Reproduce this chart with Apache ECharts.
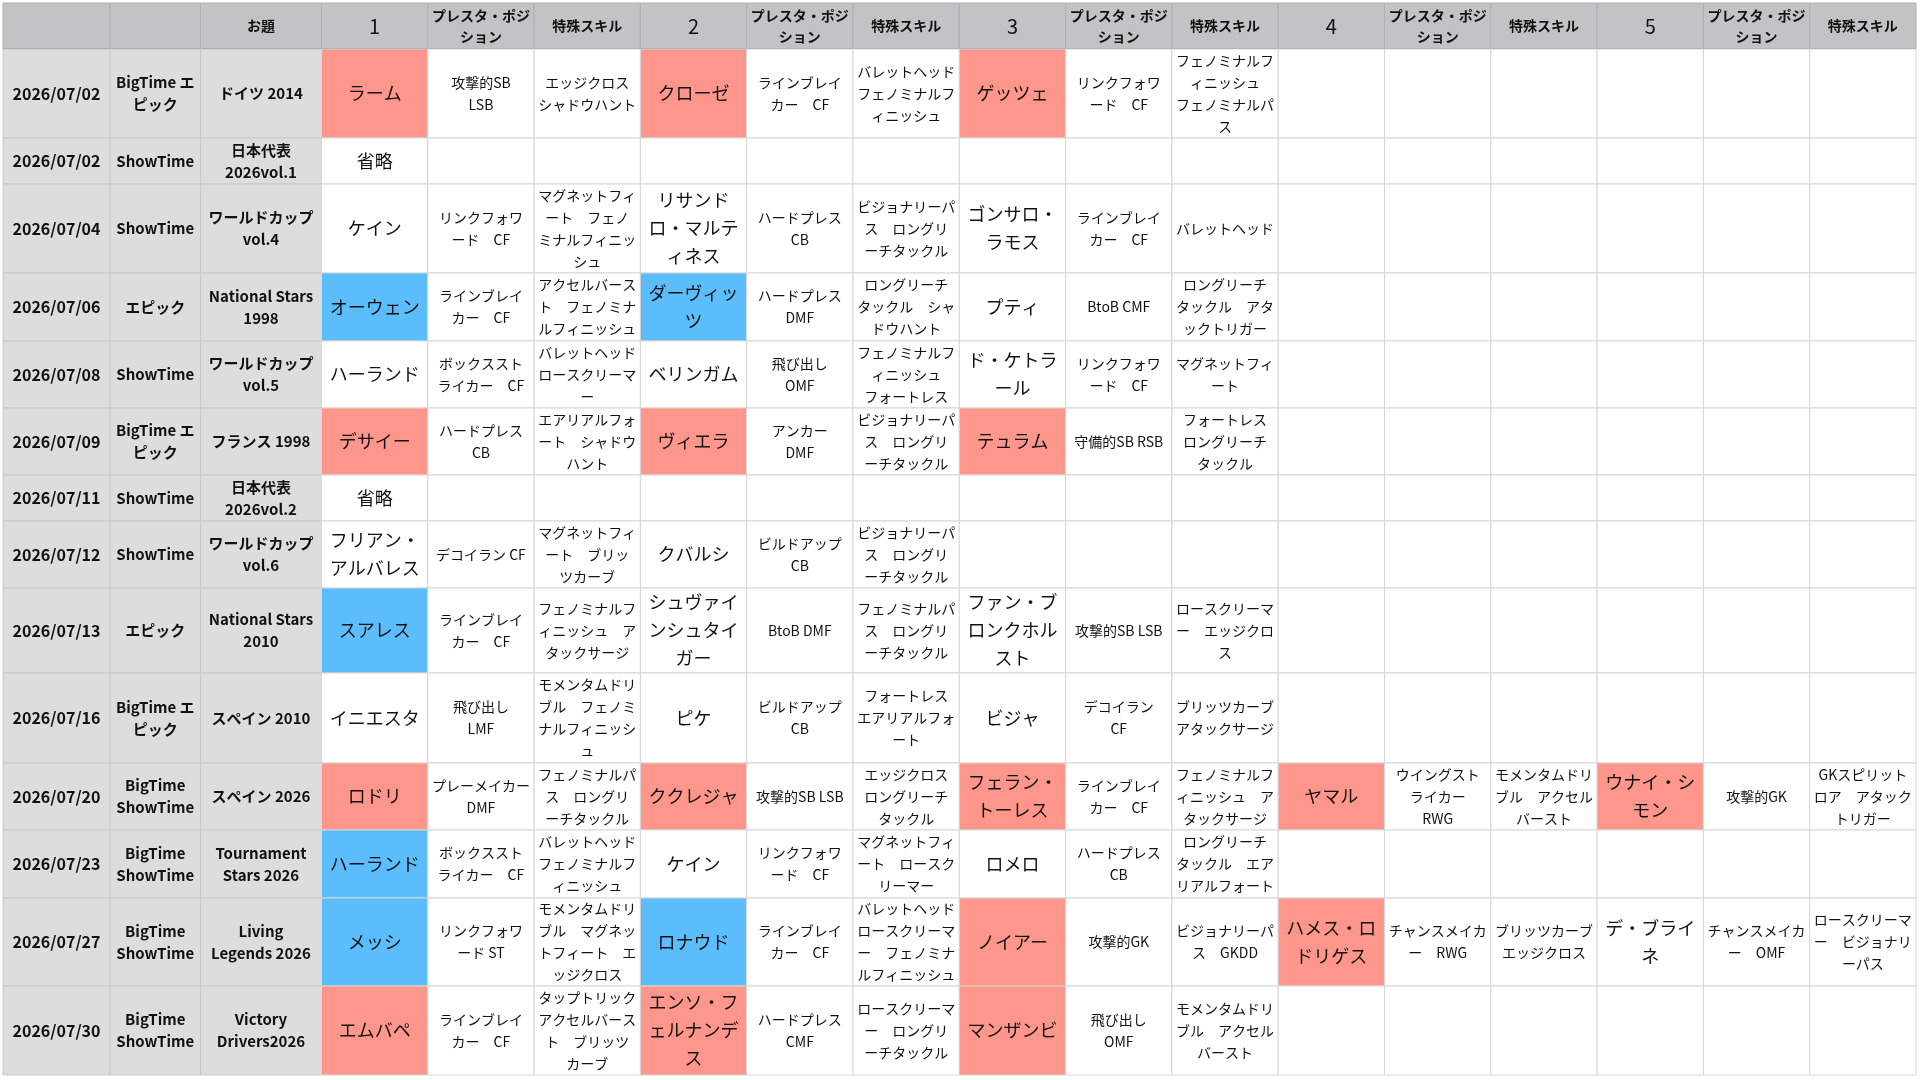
<!DOCTYPE html>
<html>
<head>
<meta charset="utf-8">
<script src="https://cdn.jsdelivr.net/npm/echarts@6/dist/echarts.min.js"></script>
<style>
  html, body { margin: 0; padding: 0; background: #ffffff; }
  #main { width: 1920px; height: 1080px; }
</style>
</head>
<body>
<div id="main"></div>
<script>
// ---- data ----
var headers = ['', '', 'お題',
  '1', 'プレスタ・ポジ\nション', '特殊スキル',
  '2', 'プレスタ・ポジ\nション', '特殊スキル',
  '3', 'プレスタ・ポジ\nション', '特殊スキル',
  '4', 'プレスタ・ポジ\nション', '特殊スキル',
  '5', 'プレスタ・ポジ\nション', '特殊スキル'];

var dates = ['2026/07/02', '2026/07/02', '2026/07/04', '2026/07/06', '2026/07/08', '2026/07/09', '2026/07/11',
  '2026/07/12', '2026/07/13', '2026/07/16', '2026/07/20', '2026/07/23', '2026/07/27', '2026/07/30'];

var kinds = ['BigTime エ\nピック', 'ShowTime', 'ShowTime', 'エピック', 'ShowTime', 'BigTime エ\nピック', 'ShowTime',
  'ShowTime', 'エピック', 'BigTime エ\nピック', 'BigTime\nShowTime', 'BigTime\nShowTime', 'BigTime\nShowTime', 'BigTime\nShowTime'];

var themes = ['ドイツ 2014', '日本代表\n2026vol.1', 'ワールドカップ\nvol.4', 'National Stars\n1998', 'ワールドカップ\nvol.5',
  'フランス 1998', '日本代表\n2026vol.2', 'ワールドカップ\nvol.6', 'National Stars\n2010', 'スペイン 2010',
  'スペイン 2026', 'Tournament\nStars 2026', 'Living\nLegends 2026', 'Victory\nDrivers2026'];

// 5 slots per row
var playerNames = [
  ['ラーム', 'クローゼ', 'ゲッツェ', '', ''],
  ['省略', '', '', '', ''],
  ['ケイン', 'リサンド\nロ・マルテ\nィネス', 'ゴンサロ・\nラモス', '', ''],
  ['オーウェン', 'ダーヴィッ\nツ', 'プティ', '', ''],
  ['ハーランド', 'ベリンガム', 'ド・ケトラ\nール', '', ''],
  ['デサイー', 'ヴィエラ', 'テュラム', '', ''],
  ['省略', '', '', '', ''],
  ['フリアン・\nアルバレス', 'クバルシ', '', '', ''],
  ['スアレス', 'シュヴァイ\nンシュタイ\nガー', 'ファン・ブ\nロンクホル\nスト', '', ''],
  ['イニエスタ', 'ピケ', 'ビジャ', '', ''],
  ['ロドリ', 'ククレジャ', 'フェラン・\nトーレス', 'ヤマル', 'ウナイ・シ\nモン'],
  ['ハーランド', 'ケイン', 'ロメロ', '', ''],
  ['メッシ', 'ロナウド', 'ノイアー', 'ハメス・ロ\nドリゲス', 'デ・ブライ\nネ'],
  ['エムバペ', 'エンソ・フ\nェルナンデ\nス', 'マンザンビ', '', '']
];

var playerPositions = [
  ['攻撃的SB\nLSB', 'ラインブレイ\nカー　CF', 'リンクフォワ\nード　CF', '', ''],
  ['', '', '', '', ''],
  ['リンクフォワ\nード　CF', 'ハードプレス\nCB', 'ラインブレイ\nカー　CF', '', ''],
  ['ラインブレイ\nカー　CF', 'ハードプレス\nDMF', 'BtoB CMF', '', ''],
  ['ボックススト\nライカー　CF', '飛び出し\nOMF', 'リンクフォワ\nード　CF', '', ''],
  ['ハードプレス\nCB', 'アンカー\nDMF', '守備的SB RSB', '', ''],
  ['', '', '', '', ''],
  ['デコイラン CF', 'ビルドアップ\nCB', '', '', ''],
  ['ラインブレイ\nカー　CF', 'BtoB DMF', '攻撃的SB LSB', '', ''],
  ['飛び出し\nLMF', 'ビルドアップ\nCB', 'デコイラン\nCF', '', ''],
  ['プレーメイカー\nDMF', '攻撃的SB LSB', 'ラインブレイ\nカー　CF', 'ウイングスト\nライカー\nRWG', '攻撃的GK'],
  ['ボックススト\nライカー　CF', 'リンクフォワ\nード　CF', 'ハードプレス\nCB', '', ''],
  ['リンクフォワ\nード ST', 'ラインブレイ\nカー　CF', '攻撃的GK', 'チャンスメイカ\nー　RWG', 'チャンスメイカ\nー　OMF'],
  ['ラインブレイ\nカー　CF', 'ハードプレス\nCMF', '飛び出し\nOMF', '', '']
];

var playerSkills = [
  ['エッジクロス\nシャドウハント', 'バレットヘッド\nフェノミナルフ\nィニッシュ', 'フェノミナルフ\nィニッシュ\nフェノミナルパ\nス', '', ''],
  ['', '', '', '', ''],
  ['マグネットフィ\nート　フェノ\nミナルフィニッ\nシュ', 'ビジョナリーパ\nス　ロングリ\nーチタックル', 'バレットヘッド', '', ''],
  ['アクセルバース\nト　フェノミナ\nルフィニッシュ', 'ロングリーチ\nタックル　シャ\nドウハント', 'ロングリーチ\nタックル　アタ\nックトリガー', '', ''],
  ['バレットヘッド\nロースクリーマ\nー', 'フェノミナルフ\nィニッシュ\nフォートレス', 'マグネットフィ\nート', '', ''],
  ['エアリアルフォ\nート　シャドウ\nハント', 'ビジョナリーパ\nス　ロングリ\nーチタックル', 'フォートレス\nロングリーチ\nタックル', '', ''],
  ['', '', '', '', ''],
  ['マグネットフィ\nート　ブリッ\nツカーブ', 'ビジョナリーパ\nス　ロングリ\nーチタックル', '', '', ''],
  ['フェノミナルフ\nィニッシュ　ア\nタックサージ', 'フェノミナルパ\nス　ロングリ\nーチタックル', 'ロースクリーマ\nー　エッジクロ\nス', '', ''],
  ['モメンタムドリ\nブル　フェノミ\nナルフィニッシ\nュ', 'フォートレス\nエアリアルフォ\nート', 'ブリッツカーブ\nアタックサージ', '', ''],
  ['フェノミナルパ\nス　ロングリ\nーチタックル', 'エッジクロス\nロングリーチ\nタックル', 'フェノミナルフ\nィニッシュ　ア\nタックサージ', 'モメンタムドリ\nブル　アクセル\nバースト', 'GKスピリット\nロア　アタック\nトリガー'],
  ['バレットヘッド\nフェノミナルフ\nィニッシュ', 'マグネットフィ\nート　ロースク\nリーマー', 'ロングリーチ\nタックル　エア\nリアルフォート', '', ''],
  ['モメンタムドリ\nブル　マグネッ\nトフィート　エ\nッジクロス', 'バレットヘッド\nロースクリーマ\nー　フェノミナ\nルフィニッシュ', 'ビジョナリーパ\nス　GKDD', 'ブリッツカーブ\nエッジクロス', 'ロースクリーマ\nー　ビジョナリ\nーパス'],
  ['タップトリック\nアクセルバース\nト　ブリッツ\nカーブ', 'ロースクリーマ\nー　ロングリ\nーチタックル', 'モメンタムドリ\nブル　アクセル\nバースト', '', '']
];

// R = red cell, B = blue cell
var playerMarks = [
  ['R', 'R', 'R', '', ''],
  ['', '', '', '', ''],
  ['', '', '', '', ''],
  ['B', 'B', '', '', ''],
  ['', '', '', '', ''],
  ['R', 'R', 'R', '', ''],
  ['', '', '', '', ''],
  ['', '', '', '', ''],
  ['B', '', '', '', ''],
  ['', '', '', '', ''],
  ['R', 'R', 'R', 'R', 'R'],
  ['B', '', '', '', ''],
  ['B', 'B', 'R', 'R', ''],
  ['R', 'R', 'R', '', '']
];

// ---- layout ----
var colWidths = [107, 90.5, 121];
for (var i = 0; i < 15; i++) colWidths.push(106.3);
var rowHeights = [46, 89, 46, 89, 68, 67, 67, 46, 67, 85, 90, 67, 68, 88, 89];

var colEdges = [0], rowEdges = [0];
colWidths.forEach(function (w, i) { colEdges.push(colEdges[i] + w); });
rowHeights.forEach(function (h, i) { rowEdges.push(rowEdges[i] + h); });
var totalW = colEdges[colEdges.length - 1];
var totalH = rowEdges[rowEdges.length - 1];

var markColor = { R: '#fe968b', B: '#5bbdfb' };
var FONT = '"Noto Sans CJK JP", "Noto Sans", sans-serif';

function cellInfo(c, r) {
  if (r === 0) {
    var isNum = c >= 3 && (c - 3) % 3 === 0;
    return { text: headers[c], fill: '#c2c3c5', size: isNum ? 20 : 14, weight: isNum ? 'normal' : 'bold', lh: 21 };
  }
  var row = r - 1;
  if (c === 0) return { text: dates[row], fill: '#dddddd', size: 16, weight: 'bold', lh: 22 };
  if (c === 1) return { text: kinds[row], fill: '#dddddd', size: 15, weight: 'bold', lh: 22 };
  if (c === 2) return { text: themes[row], fill: '#dddddd', size: 15, weight: 'bold', lh: 22 };
  var slot = Math.floor((c - 3) / 3), part = (c - 3) % 3;
  if (part === 0) {
    var m = playerMarks[row][slot];
    return { text: playerNames[row][slot], fill: m ? markColor[m] : '#ffffff', size: 18, weight: 'normal', lh: 28 };
  }
  if (part === 1) return { text: playerPositions[row][slot], fill: '#ffffff', size: 14, weight: 'normal', lh: 22 };
  return { text: playerSkills[row][slot], fill: '#ffffff', size: 14, weight: 'normal', lh: 22 };
}

var cells = [];
for (var r = 0; r < rowHeights.length; r++) {
  for (var c = 0; c < colWidths.length; c++) cells.push([c, r]);
}

function renderCell(params, api) {
  var c = api.value(0), r = api.value(1);
  var p0 = api.coord([colEdges[c], rowEdges[r]]);
  var p1 = api.coord([colEdges[c + 1], rowEdges[r + 1]]);
  var info = cellInfo(c, r);
  var w = p1[0] - p0[0], h = p1[1] - p0[1];
  var children = [
    {
      type: 'rect',
      shape: { x: p0[0], y: p0[1], width: w, height: h },
      style: { fill: info.fill, stroke: r === 0 ? '#aeb0b2' : (c < 3 ? '#c9c9c9' : '#d6d6d6'), lineWidth: 1 }
    },
    {
      type: 'text',
      x: p0[0] + w / 2,
      y: p0[1] + h / 2,
      style: {
        text: info.text,
        fill: '#111111',
        fontSize: info.size,
        fontWeight: info.weight,
        fontFamily: FONT,
        lineHeight: info.lh,
        align: 'center',
        verticalAlign: 'middle'
      }
    }
  ];
  if (r === 0) {
    var isNum = c >= 3 && (c - 3) % 3 === 0;
    children.push({
      type: 'line',
      shape: { x1: p0[0], y1: p1[1] + 0.5, x2: p1[0], y2: p1[1] + 0.5 },
      style: { stroke: isNum ? '#7f97ad' : '#929496', lineWidth: 3 }
    });
  }
  return { type: 'group', children: children };
}

var myChart = echarts.init(document.getElementById('main'));
var option = {
  animation: false,
  grid: { left: 3, top: 3, width: totalW, height: totalH },
  xAxis: { type: 'value', min: 0, max: totalW, show: false },
  yAxis: { type: 'value', min: 0, max: totalH, inverse: true, show: false },
  series: [
    {
      type: 'custom',
      silent: true,
      renderItem: renderCell,
      encode: { x: 0, y: 1 },
      data: cells,
      clip: false
    }
  ]
};
myChart.setOption(option);
</script>
</body>
</html>
